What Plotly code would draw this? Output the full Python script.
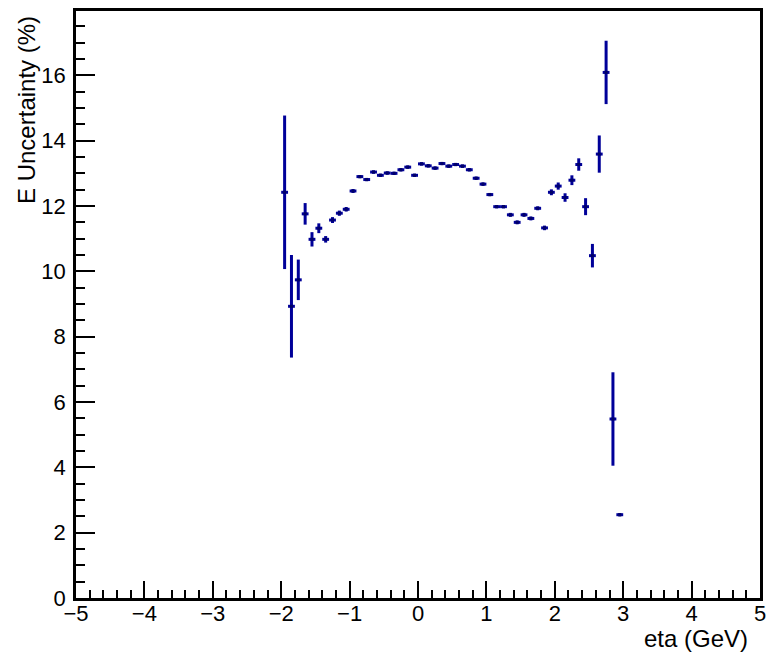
import plotly.graph_objects as go

# bin centres (eta), bin half-width 0.05
eta = [-1.95, -1.85, -1.75, -1.65, -1.55, -1.45, -1.35, -1.25, -1.15, -1.05,
       -0.95, -0.85, -0.75, -0.65, -0.55, -0.45, -0.35, -0.25, -0.15, -0.05,
       0.05, 0.15, 0.25, 0.35, 0.45, 0.55, 0.65, 0.75, 0.85, 0.95,
       1.05, 1.15, 1.25, 1.35, 1.45, 1.55, 1.65, 1.75, 1.85, 1.95,
       2.05, 2.15, 2.25, 2.35, 2.45, 2.55, 2.65, 2.75, 2.85, 2.95]

e_unc = [12.42, 8.93, 9.74, 11.76, 10.98, 11.32, 10.98, 11.57, 11.78, 11.90,
         12.46, 12.90, 12.81, 13.04, 12.94, 13.01, 13.00, 13.11, 13.19, 12.94,
         13.29, 13.23, 13.16, 13.30, 13.22, 13.27, 13.22, 13.11, 12.85, 12.67,
         12.35, 11.98, 11.98, 11.73, 11.50, 11.73, 11.62, 11.93, 11.33, 12.42,
         12.61, 12.26, 12.79, 13.27, 11.98, 10.48, 13.59, 16.09, 5.48, 2.55]

e_err = [2.35, 1.57, 0.62, 0.33, 0.22, 0.15, 0.10, 0.09, 0.08, 0.07,
         0.06, 0.05, 0.05, 0.05, 0.05, 0.05, 0.05, 0.05, 0.05, 0.05,
         0.05, 0.05, 0.05, 0.05, 0.05, 0.05, 0.05, 0.05, 0.05, 0.05,
         0.05, 0.05, 0.05, 0.06, 0.06, 0.06, 0.06, 0.06, 0.07, 0.09,
         0.11, 0.13, 0.15, 0.19, 0.26, 0.36, 0.57, 0.97, 1.43, 0.05]

bin_half = 0.05
x_ticks = [-5, -4, -3, -2, -1, 0, 1, 2, 3, 4, 5]
y_ticks = [0, 2, 4, 6, 8, 10, 12, 14, 16]

col = "#000099"
font_family = "Liberation Sans, Arial, Helvetica, sans-serif"

fig = go.Figure()
fig.add_trace(go.Scatter(
    x=eta, y=e_unc, mode="markers",
    marker=dict(symbol="square", size=3, color="#000066"),
    error_y=dict(type="data", array=e_err, visible=True, thickness=3, width=0, color=col),
    error_x=dict(type="constant", value=bin_half, visible=True, thickness=3, width=0, color=col),
    showlegend=False,
))

fig.update_layout(
    width=774, height=656,
    margin=dict(l=76, r=14, t=8, b=58),
    paper_bgcolor="white", plot_bgcolor="white",
    font=dict(family=font_family, size=22, color="black"),
    xaxis=dict(
        range=[-5, 5], tickvals=x_ticks, ticks="inside", ticklen=17, tickwidth=2,
        tickcolor="black", showline=True, linecolor="black", linewidth=2.5, mirror=True,
        showgrid=False, zeroline=False, ticklabelstandoff=-6,
        minor=dict(dtick=0.2, ticks="inside", ticklen=8, tickwidth=2, tickcolor="black", showgrid=False),
        tickfont=dict(size=22),
    ),
    yaxis=dict(
        range=[0, 17.97], tickvals=y_ticks, ticks="inside", ticklen=19, tickwidth=2,
        tickcolor="black", showline=True, linecolor="black", linewidth=2.5, mirror=True,
        showgrid=False, zeroline=False, ticklabelstandoff=3,
        minor=dict(dtick=0.5, ticks="inside", ticklen=9, tickwidth=2, tickcolor="black", showgrid=False),
        tickfont=dict(size=22),
    ),
    annotations=[
        dict(text="eta (GeV)", xref="paper", yref="paper", x=1 - 10/684, y=-41/590,
             xanchor="right", yanchor="middle", showarrow=False, font=dict(size=24)),
        dict(text="E Uncertainty (%)", xref="paper", yref="paper", x=-49/684, y=1 - 3/590,
             xanchor="center", yanchor="top", textangle=-90, showarrow=False, font=dict(size=24)),
    ],
)

fig.write_html("out.html", config={"displayModeBar": False},
               post_script="document.body.style.margin='0';document.body.style.overflow='hidden';")
